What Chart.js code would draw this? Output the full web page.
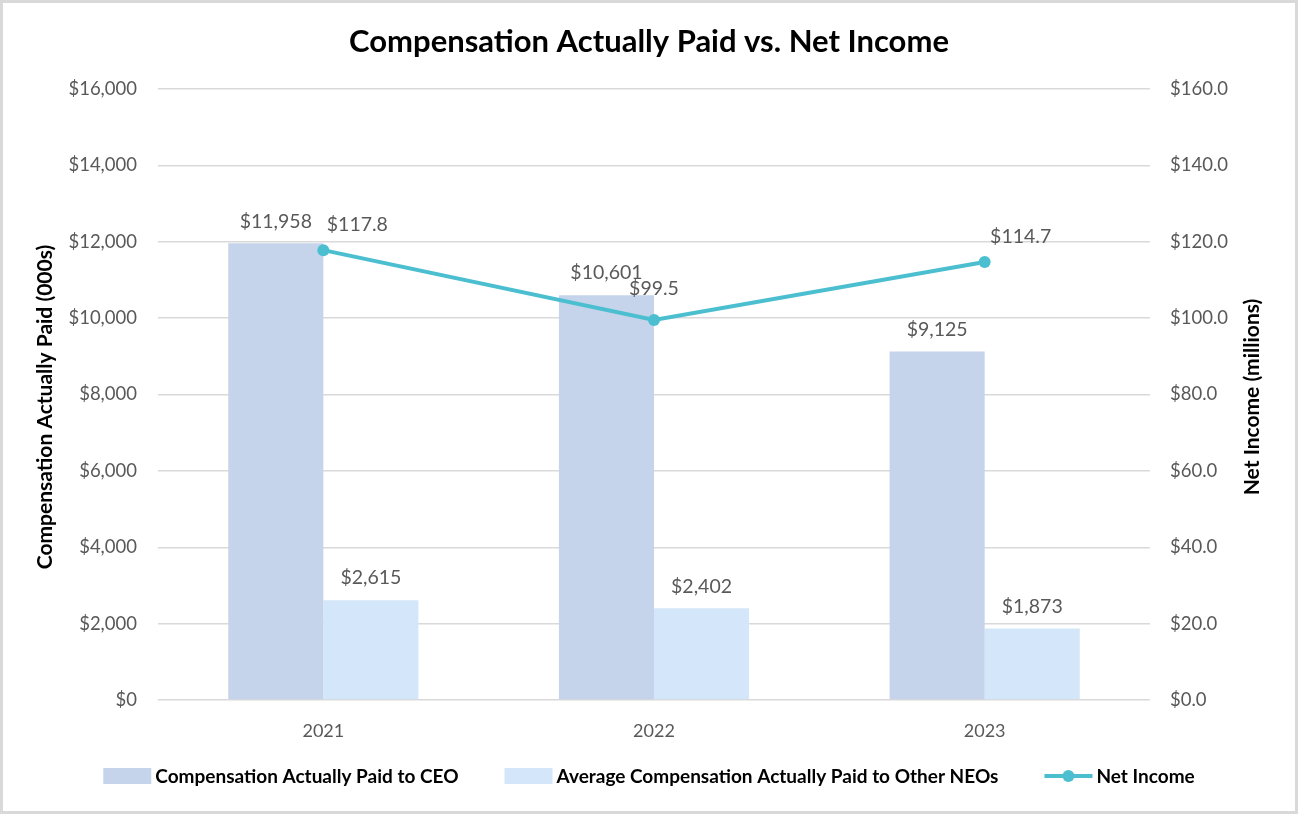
<!DOCTYPE html>
<html>
<head>
<meta charset="utf-8">
<script src="https://cdn.jsdelivr.net/npm/chart.js@4.4.1/dist/chart.umd.min.js"></script>
<style>
html,body{margin:0;padding:0;background:#fff;}
#wrap{width:1298px;height:814px;position:relative;}
</style>
</head>
<body>
<div id="wrap"><canvas id="c" width="1298" height="814"></canvas></div>
<script>
const categories = ['2021', '2022', '2023'];
const ceoPay = [11958, 10601, 9125];
const neoPay = [2615, 2402, 1873];
const netIncome = [117.8, 99.5, 114.7];
const leftTicks = [0, 2000, 4000, 6000, 8000, 10000, 12000, 14000, 16000];
const rightTicks = [0, 20, 40, 60, 80, 100, 120, 140, 160];

const FONT = 'Lato, "Open Sans", sans-serif';
const C_CEO = '#C5D4EA';
const C_NEO = '#D4E7FA';
const C_LINE = '#4BBFD0';

const fmtK = v => '$' + v.toLocaleString('en-US');
const fmtM = v => '$' + v.toFixed(1);

const labelPlugin = {
  id: 'valueLabels',
  afterDatasetsDraw(chart) {
    const ctx = chart.ctx;
    const offsets = [
      [[0,-22],[0,-22],[0,-22]],
      [[0,-22],[0,-22],[0,-22]],
      [[34,-25],[0,-31],[36,-25]]
    ];
    ctx.save();
    ctx.font = '19.5px ' + FONT;
    ctx.fillStyle = '#595959';
    ctx.textAlign = 'center';
    ctx.textBaseline = 'middle';
    chart.data.datasets.forEach((ds, i) => {
      const meta = chart.getDatasetMeta(i);
      meta.data.forEach((el, j) => {
        const v = ds.data[j];
        const txt = i === 2 ? fmtM(v) : fmtK(v);
        ctx.fillText(txt, el.x + offsets[i][j][0], el.y + offsets[i][j][1]);
      });
    });
    ctx.restore();
  }
};

const decorPlugin = {
  id: 'decor',
  beforeDraw(chart) {
    const ctx = chart.ctx;
    ctx.save();
    ctx.fillStyle = '#fff';
    ctx.fillRect(0, 0, chart.width, chart.height);
    ctx.restore();
  },
  afterDraw(chart) {
    const ctx = chart.ctx;
    ctx.save();
    // frame
    ctx.strokeStyle = '#D9D9D9';
    ctx.lineWidth = 3;
    ctx.strokeRect(1.5, 1.5, chart.width - 3, chart.height - 3);
    // title
    ctx.fillStyle = '#000';
    ctx.font = 'bold 31px ' + FONT;
    ctx.textAlign = 'center';
    ctx.textBaseline = 'middle';
    ctx.fillText('Compensation Actually Paid vs. Net Income', chart.width / 2, 42);
    // axis titles
    ctx.font = 'bold 21px ' + FONT;
    ctx.save();
    ctx.translate(45, 407);
    ctx.rotate(-Math.PI / 2);
    ctx.fillText('Compensation Actually Paid (000s)', 0, 0);
    ctx.restore();
    ctx.save();
    ctx.translate(1252, 397);
    ctx.rotate(-Math.PI / 2);
    ctx.fillText('Net Income (millions)', 0, 0);
    ctx.restore();
    // legend
    ctx.font = 'bold 19px ' + FONT;
    ctx.textAlign = 'left';
    const items = [
      {t: 'Compensation Actually Paid to CEO', type: 'box', c: C_CEO},
      {t: 'Average Compensation Actually Paid to Other NEOs', type: 'box', c: C_NEO},
      {t: 'Net Income', type: 'line', c: C_LINE}
    ];
    const sym = 48, gap = 4, between = 46;
    let total = 0;
    items.forEach((it, k) => { it.w = ctx.measureText(it.t).width; total += sym + gap + it.w + (k < items.length - 1 ? between : 0); });
    let x = chart.width / 2 - total / 2;
    const ly = 776;
    items.forEach(it => {
      if (it.type === 'box') {
        ctx.fillStyle = it.c;
        ctx.fillRect(x, ly - 8, sym, 16);
      } else {
        ctx.strokeStyle = it.c;
        ctx.lineWidth = 4;
        ctx.beginPath();
        ctx.moveTo(x, ly); ctx.lineTo(x + sym, ly); ctx.stroke();
        ctx.fillStyle = it.c;
        ctx.beginPath();
        ctx.arc(x + sym / 2, ly, 6, 0, Math.PI * 2); ctx.fill();
      }
      ctx.fillStyle = '#000';
      ctx.fillText(it.t, x + sym + gap, ly + 1);
      x += sym + gap + it.w + between;
    });
    ctx.restore();
  }
};

new Chart(document.getElementById('c'), {
  data: {
    labels: categories,
    datasets: [
      {type: 'bar', label: 'Compensation Actually Paid to CEO', data: ceoPay, backgroundColor: C_CEO, yAxisID: 'y', order: 2, categoryPercentage: 0.575, barPercentage: 1.0},
      {type: 'bar', label: 'Average Compensation Actually Paid to Other NEOs', data: neoPay, backgroundColor: C_NEO, yAxisID: 'y', order: 2, categoryPercentage: 0.575, barPercentage: 1.0},
      {type: 'line', label: 'Net Income', data: netIncome, borderColor: C_LINE, backgroundColor: C_LINE, borderWidth: 4, pointRadius: 6, pointBackgroundColor: C_LINE, pointBorderWidth: 0, yAxisID: 'y1', order: 1, tension: 0}
    ]
  },
  options: {
    responsive: false,
    animation: false,
    devicePixelRatio: 1,
    layout: {padding: {top: 89, bottom: 44, left: 0, right: 0}},
    plugins: {legend: {display: false}, title: {display: false}, tooltip: {enabled: false}},
    scales: {
      x: {
        grid: {display: false, drawTicks: false},
        border: {display: false},
        ticks: {font: {size: 18, family: FONT}, color: '#595959', padding: 20},
        afterFit(s) { s.height = 70; }
      },
      y: {
        position: 'left', min: 0, max: 16000,
        afterBuildTicks(s) { s.ticks = leftTicks.map(v => ({value: v})); },
        grid: {color: '#D9D9D9', lineWidth: 1.5, drawTicks: false},
        border: {display: false},
        ticks: {font: {size: 18.5, family: FONT}, color: '#595959', padding: 21, callback: v => fmtK(v)},
        afterFit(s) { s.width = 158; }
      },
      y1: {
        position: 'right', min: 0, max: 160,
        afterBuildTicks(s) { s.ticks = rightTicks.map(v => ({value: v})); },
        grid: {display: false, drawTicks: false},
        border: {display: false},
        ticks: {font: {size: 18.5, family: FONT}, color: '#595959', padding: 20, callback: v => fmtM(v)},
        afterFit(s) { s.width = 148; }
      }
    }
  },
  plugins: [labelPlugin, decorPlugin]
});
</script>
</body>
</html>
